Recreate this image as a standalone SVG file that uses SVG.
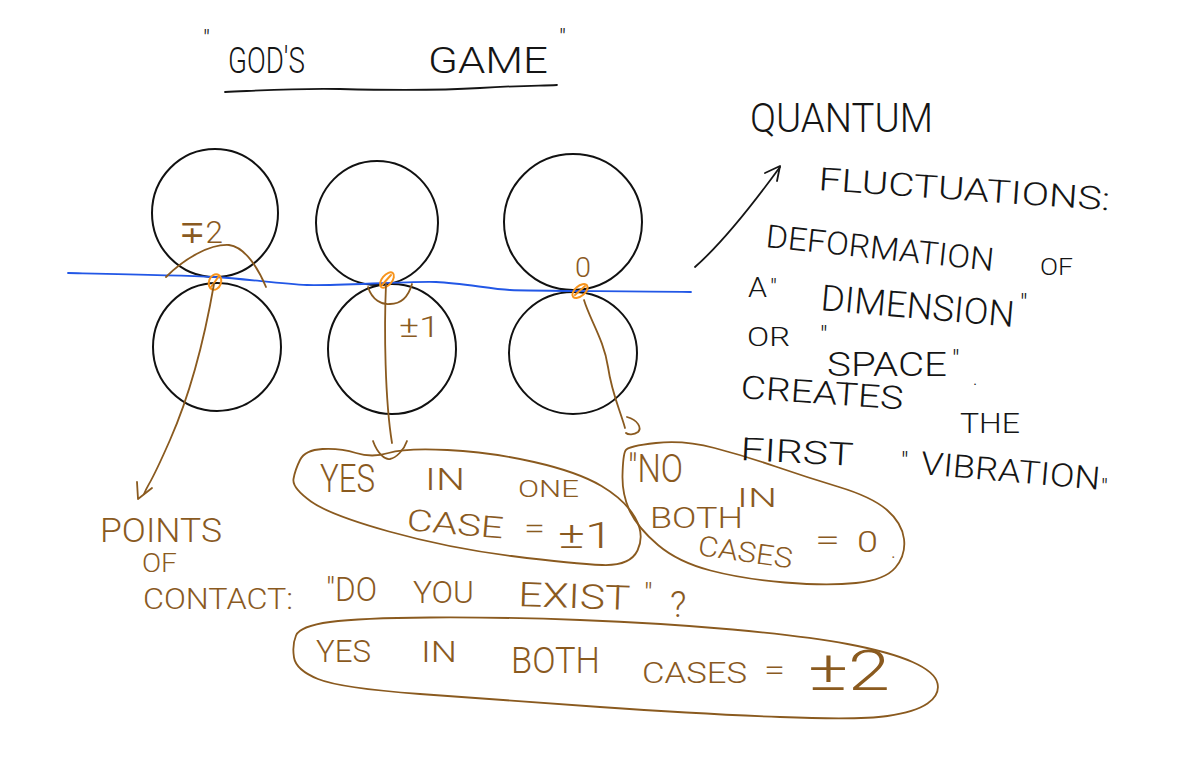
<svg xmlns="http://www.w3.org/2000/svg" width="1200" height="771" viewBox="0 0 1200 771">
<style>
.t{font-family:Roboto,Lato,"Liberation Sans",sans-serif;font-weight:300}
.k{fill:#151515}
.b{fill:#8a5a1f}
.ln{fill:none;stroke-linecap:round;stroke-linejoin:round}
.circ{fill:none;stroke:#111;stroke-width:2}
.brown{stroke:#8a5a1f;stroke-width:1.8}
.blk{stroke:#151515;stroke-width:1.8}
.or{fill:none;stroke:#f7941d;stroke-width:2}
</style>
<rect width="1200" height="771" fill="#fff"/>

<g id="title">
<text class="t k" x="203" y="47" font-size="24">"</text>
<text class="t k" x="228" y="73" font-size="36" textLength="77" lengthAdjust="spacingAndGlyphs">GOD'S</text>
<text class="t k" x="428" y="73" font-size="36" textLength="120" lengthAdjust="spacingAndGlyphs">GAME</text>
<text class="t k" x="559" y="46" font-size="24">"</text>
<path class="ln blk" d="M225,92 C270,90 300,88 340,89 S430,91 480,88 S540,86 557,85"/>
</g>

<g id="circle-1-top"><ellipse class="circ" cx="215" cy="213" rx="63" ry="64"/></g>
<g id="circle-1-bottom"><ellipse class="circ" cx="217" cy="347" rx="64" ry="64"/></g>
<g id="circle-2-top"><ellipse class="circ" cx="377" cy="223" rx="61" ry="62"/></g>
<g id="circle-2-bottom"><ellipse class="circ" cx="392" cy="349" rx="64" ry="65"/></g>
<g id="circle-3-top"><ellipse class="circ" cx="573" cy="222" rx="69" ry="68"/></g>
<g id="circle-3-bottom"><ellipse class="circ" cx="573" cy="353" rx="64" ry="61"/></g>

<g id="contact-line">
<path class="ln" stroke="#2257e6" stroke-width="1.8" d="M68,273 C120,274 180,275 214,277 S280,284 307,285 S410,281 436,282 S490,289 510,290 S600,291 691,292"/>
</g>

<g id="contact-points">
<ellipse class="or" cx="215" cy="282" rx="6" ry="8" transform="rotate(20 215 282)"/>
<path class="ln or" d="M211,287 L219,276"/>
<ellipse class="or" cx="387" cy="280" rx="5" ry="9" transform="rotate(40 387 280)"/>
<path class="ln or" d="M382,285 L391,275"/>
<ellipse class="or" cx="580" cy="291" rx="5" ry="9" transform="rotate(50 580 291)"/>
<path class="ln or" d="M575,295 L585,286"/>
</g>

<g id="labels-values">
<text class="t b" x="179" y="243" font-size="32" textLength="44" lengthAdjust="spacingAndGlyphs">∓2</text>
<text class="t b" x="399" y="337" font-size="30" textLength="41" lengthAdjust="spacingAndGlyphs">±1</text>
<text class="t b" x="575" y="277" font-size="28" textLength="16" lengthAdjust="spacingAndGlyphs">0</text>
</g>

<g id="connectors">
<path class="ln brown" d="M166,277 C185,258 210,244 229,245 C245,247 258,268 266,287"/>
<path class="ln brown" d="M214,284 C206,330 192,390 170,440 S150,480 144,494"/>
<path class="ln brown" d="M137,482 L138,499 L152,488"/>
<path class="ln brown" d="M368,287 C372,300 382,305 390,304 C400,304 408,298 412,284"/>
<path class="ln brown" d="M386,284 C384,330 385,400 392,443"/>
<path class="ln brown" d="M373,441 C378,455 386,460 390,459 C396,458 404,450 407,441"/>
<path class="ln brown" d="M584,300 C590,320 604,340 608,367 S620,410 625,428"/>
<path class="ln brown" d="M627,417 C638,420 642,428 638,432 C634,435 628,435 626,433"/>
<path class="ln blk" d="M695,267 C720,245 745,215 780,167"/>
<path class="ln blk" d="M765,173 L780,166 L777,181"/>
</g>

<g id="note-points-of-contact">
<text class="t b" x="100" y="542" font-size="34" textLength="122" lengthAdjust="spacingAndGlyphs">POINTS</text>
<text class="t b" x="142" y="572" font-size="26" textLength="35" lengthAdjust="spacingAndGlyphs">OF</text>
<text class="t b" x="143" y="609" font-size="30" textLength="150" lengthAdjust="spacingAndGlyphs">CONTACT:</text>
<text class="t b" x="326" y="601" font-size="34" textLength="51" lengthAdjust="spacingAndGlyphs">"DO</text>
<text class="t b" x="413" y="603" font-size="32" textLength="61" lengthAdjust="spacingAndGlyphs">YOU</text>
<text class="t b" x="518" y="606" font-size="34" textLength="112" lengthAdjust="spacingAndGlyphs" transform="rotate(2 518 606)">EXIST</text>
<text class="t b" x="644" y="604" font-size="30">"</text>
<text class="t b" x="670" y="617" font-size="36">?</text>
</g>

<g id="blob-yes-one-case">
<path class="ln brown" d="M300,460 Q305,450 322.5,449 Q340,448 356,453 Q372,458 388.5,453 Q405,448 447.5,450 Q490,452 534,462 Q578,472 601.5,486 Q625,500 635,517.5 Q645,535 637.5,550.5 Q630,566 602.5,565 Q575,564 511.5,556 Q448,548 389,531.5 Q330,515 311,501.5 Q292,488 293.5,479 Q295,470 300,460 Z"/>
<text class="t b" x="320" y="492" font-size="38" textLength="55" lengthAdjust="spacingAndGlyphs">YES</text>
<text class="t b" x="425" y="490" font-size="32" textLength="40" lengthAdjust="spacingAndGlyphs">IN</text>
<text class="t b" x="518" y="497" font-size="24" textLength="61" lengthAdjust="spacingAndGlyphs">ONE</text>
<text class="t b" x="406" y="530" font-size="30" textLength="97" lengthAdjust="spacingAndGlyphs" transform="rotate(5 406 530)">CASE</text>
<text class="t b" x="524" y="538" font-size="28" textLength="21" lengthAdjust="spacingAndGlyphs">=</text>
<text class="t b" x="558" y="548" font-size="36" textLength="55" lengthAdjust="spacingAndGlyphs">±1</text>
</g>

<g id="blob-no-both-cases">
<path class="ln brown" d="M656,443 Q684,440 714.5,448 Q745,456 775.5,466.5 Q806,477 839,487 Q872,497 887,510 Q902,523 904,539 Q906,555 895.5,567.5 Q885,580 856,583 Q827,586 785,582.5 Q743,579 710.5,570.5 Q678,562 658,545 Q638,528 630,511.5 Q622,495 622.5,475 Q623,455 625.5,450.5 Q628,446 656,443 Z"/>
<text class="t b" x="628" y="482" font-size="38" textLength="55" lengthAdjust="spacingAndGlyphs">"NO</text>
<text class="t b" x="737" y="507" font-size="26" textLength="40" lengthAdjust="spacingAndGlyphs">IN</text>
<text class="t b" x="650" y="528" font-size="30" textLength="93" lengthAdjust="spacingAndGlyphs">BOTH</text>
<text class="t b" x="697" y="555" font-size="28" textLength="95" lengthAdjust="spacingAndGlyphs" transform="rotate(8 697 555)">CASES</text>
<text class="t b" x="815" y="550" font-size="30" font-weight="700" textLength="25" lengthAdjust="spacingAndGlyphs">=</text>
<text class="t b" x="857" y="552" font-size="30" textLength="21" lengthAdjust="spacingAndGlyphs">0</text>
<text class="t b" x="891" y="558" font-size="20">.</text>
</g>

<g id="blob-yes-both-cases">
<path class="ln brown" d="M330,622 Q360,618 430,617.5 Q500,617 580,620 Q660,623 732.5,629.5 Q805,636 847.5,644 Q890,652 912.5,662 Q935,672 937.5,683.5 Q940,695 927.5,703.5 Q915,712 887.5,716 Q860,720 780,717 Q700,714 600,707 Q500,700 420,694 Q340,688 318,679 Q296,670 294,657.5 Q292,645 296,635.5 Q300,626 330,622 Z"/>
<text class="t b" x="316" y="662" font-size="32" textLength="55" lengthAdjust="spacingAndGlyphs">YES</text>
<text class="t b" x="421" y="662" font-size="30" textLength="36" lengthAdjust="spacingAndGlyphs">IN</text>
<text class="t b" x="511" y="673" font-size="36" textLength="89" lengthAdjust="spacingAndGlyphs">BOTH</text>
<text class="t b" x="642" y="683" font-size="30" textLength="105" lengthAdjust="spacingAndGlyphs">CASES</text>
<text class="t b" x="764" y="680" font-size="30" textLength="21" lengthAdjust="spacingAndGlyphs">=</text>
<text class="t b" x="808" y="690" font-size="56" textLength="82" lengthAdjust="spacingAndGlyphs">±2</text>
</g>

<g id="note-quantum">
<text class="t k" x="750" y="132" font-size="40" textLength="183" lengthAdjust="spacingAndGlyphs">QUANTUM</text>
<text class="t k" x="818" y="190" font-size="32" textLength="292" lengthAdjust="spacingAndGlyphs" transform="rotate(4 818 190)">FLUCTUATIONS:</text>
<text class="t k" x="765" y="247" font-size="32" textLength="229" lengthAdjust="spacingAndGlyphs" transform="rotate(6 765 247)">DEFORMATION</text>
<text class="t k" x="1040" y="275" font-size="24" textLength="33" lengthAdjust="spacingAndGlyphs">OF</text>
<text class="t k" x="748" y="297" font-size="28" textLength="19" lengthAdjust="spacingAndGlyphs">A</text>
<text class="t k" x="770" y="296" font-size="24">"</text>
<text class="t k" x="820" y="310" font-size="36" textLength="194" lengthAdjust="spacingAndGlyphs" transform="rotate(5 820 310)">DIMENSION</text>
<text class="t k" x="1020" y="312" font-size="26">"</text>
<text class="t k" x="747" y="346" font-size="26" textLength="43" lengthAdjust="spacingAndGlyphs">OR</text>
<text class="t k" x="820" y="344" font-size="26">"</text>
<text class="t k" x="827" y="376" font-size="34" textLength="120" lengthAdjust="spacingAndGlyphs">SPACE</text>
<text class="t k" x="952" y="368" font-size="26">"</text>
<text class="t k" x="973" y="385" font-size="18">.</text>
<text class="t k" x="740" y="398" font-size="32" textLength="163" lengthAdjust="spacingAndGlyphs" transform="rotate(4 740 398)">CREATES</text>
<text class="t k" x="960" y="433" font-size="28" textLength="60" lengthAdjust="spacingAndGlyphs">THE</text>
<text class="t k" x="740" y="460" font-size="32" textLength="113" lengthAdjust="spacingAndGlyphs" transform="rotate(3 740 460)">FIRST</text>
<text class="t k" x="901" y="470" font-size="26">"</text>
<text class="t k" x="920" y="474" font-size="32" textLength="180" lengthAdjust="spacingAndGlyphs" transform="rotate(5 920 474)">VIBRATION</text>
<text class="t k" x="1101" y="496" font-size="24">"</text>
</g>
</svg>
